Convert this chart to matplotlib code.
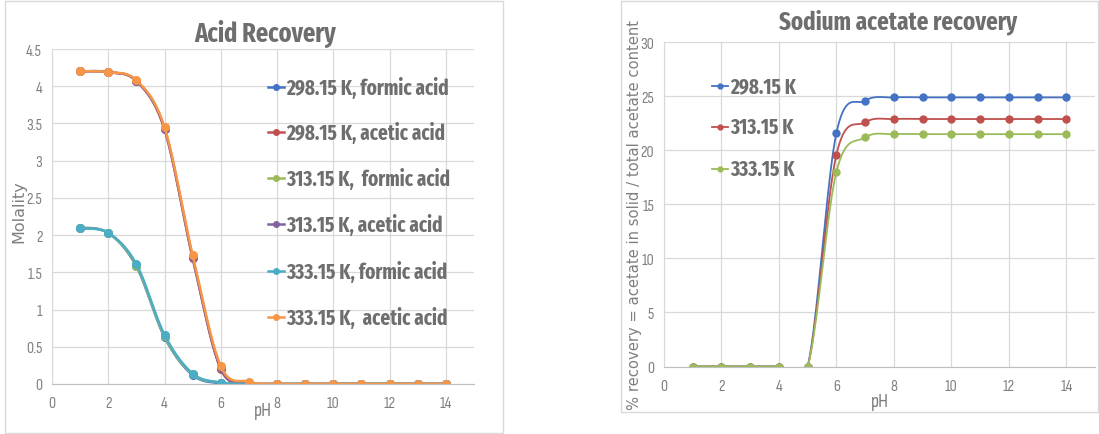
import matplotlib
matplotlib.use('Agg')
import matplotlib.pyplot as plt
from matplotlib.patches import Rectangle
from matplotlib.lines import Line2D
import numpy as np

# ---- data ----
ph = [1, 2, 3, 4, 5, 6, 7, 8, 9, 10, 11, 12, 13, 14]

formic_298 = [2.10, 2.03, 1.58, 0.63, 0.12, 0.01, 0, 0, 0, 0, 0, 0, 0, 0]
acetic_298 = [4.20, 4.19, 4.07, 3.42, 1.69, 0.20, 0.02, 0, 0, 0, 0, 0, 0, 0]
formic_313 = [2.09, 2.03, 1.59, 0.64, 0.13, 0.02, 0, 0, 0, 0, 0, 0, 0, 0]
acetic_313 = [4.20, 4.19, 4.07, 3.43, 1.70, 0.21, 0.02, 0, 0, 0, 0, 0, 0, 0]
formic_333 = [2.09, 2.03, 1.61, 0.66, 0.14, 0.02, 0, 0, 0, 0, 0, 0, 0, 0]
acetic_333 = [4.20, 4.19, 4.08, 3.45, 1.73, 0.24, 0.03, 0, 0, 0, 0, 0, 0, 0]

acid_labels = ['298.15 K, formic acid', '298.15 K, acetic acid',
               '313.15 K,  formic acid', '313.15 K, acetic acid',
               '333.15 K, formic acid', '333.15 K,  acetic acid']
acid_yticks = ['0', '0.5', '1', '1.5', '2', '2.5', '3', '3.5', '4', '4.5']

rec_298 = [0, 0, 0, 0, 0, 21.6, 24.6, 24.9, 24.9, 24.9, 24.9, 24.9, 24.9, 24.9]
rec_313 = [0, 0, 0, 0, 0, 19.6, 22.6, 22.9, 22.9, 22.9, 22.9, 22.9, 22.9, 22.9]
rec_333 = [0, 0, 0, 0, 0, 18.0, 21.2, 21.5, 21.5, 21.5, 21.5, 21.5, 21.5, 21.5]
rec_labels = ['298.15 K', '313.15 K', '333.15 K']

colors = ['#4472c4', '#c0504d', '#9bbb59', '#8064a2', '#4bacc6', '#f79646']
grid_c = '#d9d9d9'
txt_c = '#7f7f7f'
head_c = '#6e6e6e'
bold_f = ['Fira Sans Extra Condensed', 'DejaVu Sans']
tick_f = ['Sofia Sans Condensed', 'DejaVu Sans']
W, H = 1099, 435


def fx(px):
    return px / W


def fy(py):
    return 1 - py / H


def smooth(x, y, n=20):
    # Excel-like smoothed line (Catmull-Rom through the points)
    x = np.asarray(x, float)
    y = np.asarray(y, float)
    px = np.concatenate([[x[0]], x, [x[-1]]])
    py = np.concatenate([[y[0]], y, [y[-1]]])
    xs, ys = [], []
    for i in range(1, len(px) - 2):
        t = np.linspace(0, 1, n, endpoint=False)
        for p, out in ((px, xs), (py, ys)):
            p0, p1, p2, p3 = p[i - 1], p[i], p[i + 1], p[i + 2]
            out.extend(0.5 * (2 * p1 + (-p0 + p2) * t
                              + (2 * p0 - 5 * p1 + 4 * p2 - p3) * t ** 2
                              + (-p0 + 3 * p1 - 3 * p2 + p3) * t ** 3))
    xs.append(x[-1])
    ys.append(y[-1])
    return xs, ys


def style(ax, yticks, ylabels):
    ax.set_xlim(0, 15)
    ax.set_ylim(0, yticks[-1])
    ax.set_xticks(range(0, 15, 2))
    ax.set_yticks(yticks)
    ax.set_yticklabels(ylabels)
    ax.grid(True, color=grid_c, lw=0.9)
    ax.set_axisbelow(True)
    for s in ['top', 'right']:
        ax.spines[s].set_visible(False)
    ax.spines['left'].set_color(grid_c)
    ax.spines['bottom'].set_color('#bfbfbf')
    ax.tick_params(length=0, colors=txt_c, labelsize=11.5)
    ax.tick_params(axis='x', pad=9)
    ax.tick_params(axis='y', pad=7)
    for lab in ax.get_xticklabels() + ax.get_yticklabels():
        lab.set_family(tick_f)


def legend(labels, cols, x0, ys, lw, ms, size):
    for lab, c, y in zip(labels, cols, ys):
        fig.add_artist(Line2D([fx(x0), fx(x0 + 16)], [fy(y), fy(y)], color=c, lw=lw,
                              transform=fig.transFigure))
        fig.add_artist(Line2D([fx(x0 + 8)], [fy(y)], marker='o', color=c, ms=ms,
                              transform=fig.transFigure))
        fig.text(fx(x0 + 18), fy(y), lab, color=head_c, fontsize=size,
                 fontweight='bold', family=bold_f, ha='left', va='center')


fig = plt.figure(figsize=(W / 100, H / 100), dpi=100)

# panel borders
fig.patches.append(Rectangle((fx(5), fy(434)), 498 / W, 432 / H,
                             transform=fig.transFigure, fill=False, ec=grid_c, lw=1))
fig.patches.append(Rectangle((fx(621), fy(413)), 477 / W, 411 / H,
                             transform=fig.transFigure, fill=False, ec=grid_c, lw=1))

# ---- left: acid recovery ----
ax1 = fig.add_axes([fx(52), fy(385), 422 / W, 335 / H])
series = [formic_298, acetic_298, formic_313, acetic_313, formic_333, acetic_333]
for vals, c in zip(series, colors):
    sx, sy = smooth(ph, vals)
    ax1.plot(sx, sy, color=c, lw=1.8)
    ax1.plot(ph, vals, 'o', color=c, ms=5.5)
style(ax1, np.arange(0, 4.51, 0.5), acid_yticks)
fig.text(fx(19), fy(212), 'Molality', color=txt_c, fontsize=11.5, rotation=90,
         ha='center', va='center')
fig.text(fx(263), fy(411), 'pH', color=txt_c, fontsize=14,
         family=tick_f, ha='center', va='center')
fig.text(fx(265), fy(34), 'Acid Recovery', color=head_c, fontsize=19,
         fontweight='bold', family=bold_f, ha='center', va='center')
legend(acid_labels, colors, 268, [88, 133, 179, 225, 272, 318], 1.8, 4, 15)

# ---- right: sodium acetate recovery ----
ax2 = fig.add_axes([fx(664), fy(367.5), 431 / W, 324.2 / H])
for vals, c in zip([rec_298, rec_313, rec_333], colors[:3]):
    sx, sy = smooth(ph, vals)
    ax2.plot(sx, sy, color=c, lw=1.3)
    ax2.plot(ph, vals, 'o', color=c, ms=5)
style(ax2, list(range(0, 31, 5)), [str(v) for v in range(0, 31, 5)])
fig.text(fx(634), fy(215), '% recovery = acetate in solid / total acetate content',
         color=txt_c, fontsize=10.6, rotation=90, ha='center', va='center')
fig.text(fx(880), fy(402), 'pH', color=txt_c, fontsize=14,
         family=tick_f, ha='center', va='center')
fig.text(fx(898), fy(22), 'Sodium acetate recovery', color=head_c,
         fontsize=18, fontweight='bold', family=bold_f, ha='center', va='center')
legend(rec_labels, colors[:3], 712, [87, 128, 170], 1.3, 3.5, 15)

plt.savefig('out.png', dpi=100)
plt.close()
